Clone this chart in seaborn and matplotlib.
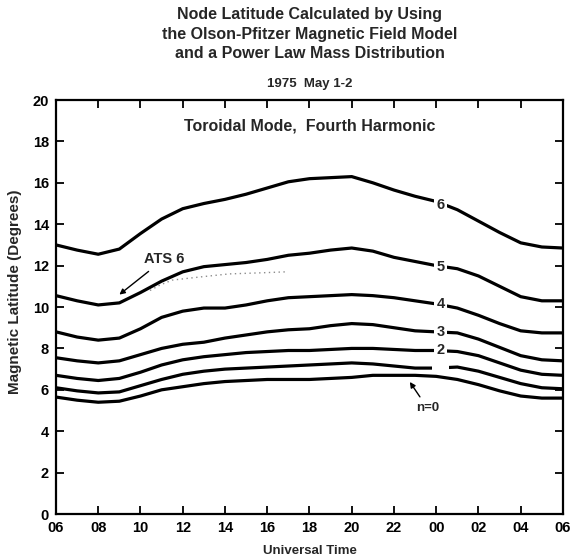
import numpy as np
import pandas as pd
import matplotlib
matplotlib.use("Agg")
import matplotlib.pyplot as plt
from matplotlib.patches import Rectangle
import seaborn as sns

# Universal time in hours, 06 UT on May 1 through 06 UT on May 2
ut_hours = list(range(6, 31))

# Node latitude (degrees) for each harmonic mode n
lat_n0 = [5.65, 5.5, 5.4, 5.45, 5.7, 6.0, 6.15, 6.3, 6.4, 6.45, 6.5, 6.5, 6.5,
          6.55, 6.6, 6.7, 6.7, 6.7, 6.65, 6.5, 6.25, 5.95, 5.7, 5.6, 5.6]
lat_n1 = [6.1, 5.95, 5.85, 5.9, 6.2, 6.5, 6.75, 6.9, 7.0, 7.05, 7.1, 7.15, 7.2,
          7.25, 7.3, 7.25, 7.15, 7.05, 7.05, 7.1, 6.9, 6.6, 6.3, 6.1, 6.05]
lat_n2 = [6.7, 6.55, 6.45, 6.55, 6.85, 7.2, 7.45, 7.6, 7.7, 7.8, 7.85, 7.9, 7.9,
          7.95, 8.0, 8.0, 7.95, 7.9, 7.9, 7.85, 7.65, 7.3, 6.95, 6.75, 6.7]
lat_n3 = [7.55, 7.4, 7.3, 7.4, 7.7, 8.0, 8.2, 8.3, 8.5, 8.65, 8.8, 8.9, 8.95,
          9.1, 9.2, 9.15, 9.0, 8.85, 8.8, 8.75, 8.45, 8.05, 7.65, 7.45, 7.4]
lat_n4 = [8.8, 8.55, 8.4, 8.5, 8.95, 9.5, 9.8, 9.95, 9.95, 10.1, 10.3, 10.45, 10.5,
          10.55, 10.6, 10.55, 10.45, 10.3, 10.15, 9.95, 9.6, 9.2, 8.85, 8.75, 8.75]
lat_n5 = [10.55, 10.3, 10.1, 10.2, 10.7, 11.25, 11.7, 11.95, 12.05, 12.15, 12.3, 12.5, 12.6,
          12.75, 12.85, 12.7, 12.4, 12.2, 12.0, 11.85, 11.5, 11.0, 10.5, 10.3, 10.3]
lat_n6 = [13.0, 12.75, 12.55, 12.8, 13.55, 14.25, 14.75, 15.0, 15.2, 15.45, 15.75, 16.05, 16.2,
          16.25, 16.3, 16.0, 15.65, 15.35, 15.1, 14.7, 14.15, 13.6, 13.1, 12.9, 12.85]

# ATS 6 observed points (faint dotted trace)
ats_ut = [10.45, 10.9, 11.5, 12.8, 14.2, 15.65, 16.9]
ats_lat = [10.8, 11.05, 11.3, 11.45, 11.6, 11.65, 11.7]

# Mode labels placed along the curves near 00 UT
mode_labels = ["6", "5", "4", "3", "2"]
mode_label_lat = [14.95, 11.95, 10.15, 8.8, 7.9]
mode_label_ut = 24.2

x_ticks = list(range(6, 31, 2))
x_tick_labels = ["06", "08", "10", "12", "14", "16", "18", "20", "22", "00", "02", "04", "06"]
y_ticks = list(range(0, 21, 2))

curves = {0: lat_n0, 1: lat_n1, 2: lat_n2, 3: lat_n3, 4: lat_n4, 5: lat_n5, 6: lat_n6}
df = pd.concat(
    [pd.DataFrame({"UT": ut_hours, "lat": v, "mode": str(k)}) for k, v in curves.items()],
    ignore_index=True,
)

sns.set_theme(style="ticks")
plt.rcParams["font.family"] = ["Liberation Sans", "DejaVu Sans"]
plt.rcParams["font.weight"] = "bold"

fig = plt.figure(figsize=(5.76, 5.6), dpi=100)
ax = fig.add_axes([0.0972, 0.0821, 0.8802, 0.7393])

sns.lineplot(data=df, x="UT", y="lat", hue="mode", palette=["black"] * 7,
             legend=False, linewidth=2.3, ax=ax, sort=False,
             solid_joinstyle="round", solid_capstyle="round")
sns.lineplot(x=ats_ut, y=ats_lat, color="0.55", linestyle=(0, (1, 2.5)),
             linewidth=1.0, ax=ax)

ax.set_xlim(6, 30)
ax.set_ylim(0, 20)
ax.set_xticks(x_ticks)
ax.set_xticklabels(x_tick_labels)
ax.set_yticks(y_ticks)
ax.tick_params(direction="in", length=6, width=1.3, top=True, right=True,
               labelsize=10.5, pad=5, colors="black")
for s in ax.spines.values():
    s.set_linewidth(1.6)
    s.set_color("black")

ax.set_xlabel("Universal Time", fontsize=9.5, fontweight="bold", labelpad=7)
ax.set_ylabel("Magnetic Latitude (Degrees)", fontsize=11, fontweight="bold")
ax.yaxis.set_label_coords(-0.067, 0.536)

# Curve labels with a white gap in the line
for lab, y in zip(mode_labels, mode_label_lat):
    ax.text(mode_label_ut, y, lab, ha="center", va="center", fontsize=10.5,
            fontweight="bold", zorder=5,
            bbox=dict(facecolor="white", edgecolor="none", pad=1.5))
ax.add_patch(Rectangle((mode_label_ut - 0.4, 6.85), 0.8, 0.45,
                       facecolor="white", edgecolor="none", zorder=4))

ax.annotate("n=0", xy=(22.75, 6.38), xytext=(23.6, 5.1), ha="center", va="center",
            fontsize=9.5, fontweight="bold",
            arrowprops=dict(arrowstyle="-|>", color="black", lw=1.0,
                            shrinkA=2, shrinkB=0, mutation_scale=8))
ax.annotate("ATS 6", xy=(9.0, 10.6), xytext=(11.1, 12.3), ha="center", va="center",
            fontsize=10.5, fontweight="bold",
            arrowprops=dict(arrowstyle="-|>", color="black", lw=1.0,
                            shrinkA=2, shrinkB=0, mutation_scale=8))

ax.text(18.0, 18.75, "Toroidal Mode,  Fourth Harmonic", ha="center", va="center",
        fontsize=11.5, fontweight="bold")

cx = 0.538
fig.text(cx, 1 - 15 / 560, "Node Latitude Calculated by Using", ha="center", va="center",
         fontsize=11.5, fontweight="bold")
fig.text(cx, 1 - 34 / 560, "the Olson-Pfitzer Magnetic Field Model", ha="center", va="center",
         fontsize=11.5, fontweight="bold")
fig.text(cx, 1 - 53 / 560, "and a Power Law Mass Distribution", ha="center", va="center",
         fontsize=11.5, fontweight="bold")
fig.text(cx, 1 - 84 / 560, "1975  May 1-2", ha="center", va="center",
         fontsize=9.5, fontweight="bold")

fig.savefig("out.png", dpi=100, facecolor="white")
